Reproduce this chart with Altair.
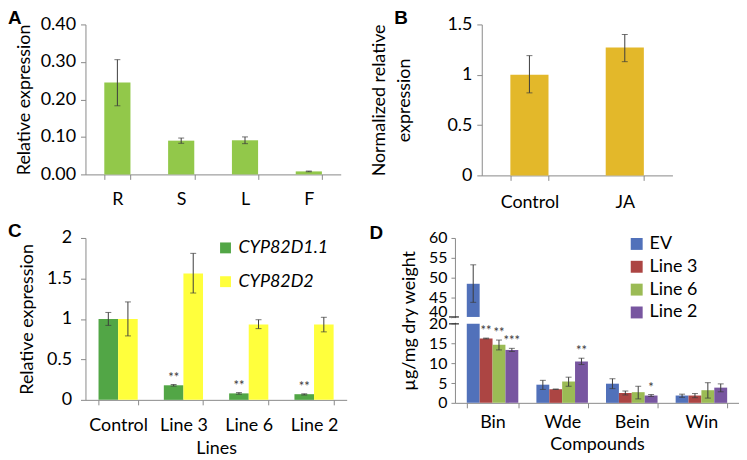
import altair as alt
import pandas as pd

FONT = "Lato"
LETTER_FONT = "Liberation Sans"
AXIS_GREY = "#898989"
ERR = "#3c3c3c"
STAR = "#404040"

# ---------------- Panel A ----------------
tissues = ["R", "S", "L", "F"]
tissue_mean = [0.245, 0.090, 0.091, 0.008]
tissue_lo = [0.183, 0.083, 0.082, 0.007]
tissue_hi = [0.306, 0.097, 0.100, 0.009]

# ---------------- Panel B ----------------
treatments = ["Control", "JA"]
treat_mean = [1.00, 1.27]
treat_lo = [0.82, 1.13]
treat_hi = [1.19, 1.40]

# ---------------- Panel C ----------------
lines_c = ["Control", "Line 3", "Line 6", "Line 2"]
genes = ["CYP82D1.1", "CYP82D2"]
gene_colors = ["#52a646", "#ffff3c"]
d11_mean = [1.00, 0.18, 0.08, 0.07]
d11_lo = [0.92, 0.17, 0.07, 0.06]
d11_hi = [1.08, 0.19, 0.09, 0.075]
d11_sig = ["", "**", "**", "**"]
d2_mean = [1.00, 1.56, 0.93, 0.93]
d2_lo = [0.79, 1.32, 0.88, 0.84]
d2_hi = [1.21, 1.81, 0.99, 1.02]
d2_sig = ["", "", "", ""]

# ---------------- Panel D ----------------
compounds = ["Bin", "Wde", "Bein", "Win"]
groups_d = ["EV", "Line 3", "Line 6", "Line 2"]
group_colors = ["#5171ba", "#ac4543", "#9bbb55", "#7856a0"]
ev_mean = [48.4, 4.6, 4.85, 1.85]
ev_lo = [43.7, 3.4, 3.6, 1.4]
ev_hi = [53.2, 5.7, 6.1, 2.2]
ev_sig = ["", "", "", ""]
l3_mean = [16.3, 3.45, 2.5, 1.85]
l3_lo = [16.2, 3.4, 2.0, 1.3]
l3_hi = [16.4, 3.5, 3.0, 2.35]
l3_sig = ["**", "", "", ""]
l6_mean = [14.7, 5.4, 2.7, 3.2]
l6_lo = [13.4, 4.2, 1.0, 1.2]
l6_hi = [15.9, 6.5, 4.2, 5.1]
l6_sig = ["**", "", "", ""]
l2_mean = [13.4, 10.5, 1.85, 3.85]
l2_lo = [13.0, 9.7, 1.6, 2.8]
l2_hi = [13.8, 11.3, 2.1, 4.8]
l2_sig = ["***", "**", "*", ""]

# broken y axis for panel D
LOW_TOP = 20.0
HIGH_BOTTOM = 40.0
HIGH_TOP = 60.0
GAP = 1.75
low_ticks = [0, 5, 10, 15, 20]
high_ticks = [40, 45, 50, 55, 60]

# keep every explicit tick (Vega thins explicit values down to tickCount)
ALL_TICKS = dict(labelOverlap=False, tickCount=50)


def brk(v):
    return v if v <= LOW_TOP else v - HIGH_BOTTOM + LOW_TOP + GAP


def bandwidth(width, n, p_inner, p_outer):
    step = width / (n - p_inner + 2 * p_outer)
    return step * (1 - p_inner)


def letter(ch, dx, dy):
    return alt.Chart(pd.DataFrame({"t": [ch]})).mark_text(
        align="left", baseline="top", font=LETTER_FONT, fontSize=19,
        fontWeight="bold", color="black"
    ).encode(text="t:N", x=alt.value(dx), y=alt.value(dy))


def simple_panel(cats, mean, lo, hi, color, width, height, domain, yvals, yfmt,
                 ytitle, title_x, xlabel_pad, letter_ch, letter_dx, letter_dy,
                 pad_inner, title_line_height=None):
    df = pd.DataFrame({"Cat": cats, "Mean": mean, "Lo": lo, "Hi": hi})
    base = alt.Chart(df)
    yaxis_kw = dict(values=yvals, format=yfmt, tickSize=5, labelPadding=5,
                    title=ytitle, titleX=title_x, titleY=height / 2,
                    titleAngle=270, titleBaseline="middle", titleAlign="center",
                    **ALL_TICKS)
    if title_line_height:
        yaxis_kw["titleLineHeight"] = title_line_height
    xscale = alt.Scale(domain=cats, paddingInner=pad_inner, paddingOuter=pad_inner / 2)
    yscale = alt.Scale(domain=domain, nice=False)
    x = alt.X("Cat:N", scale=xscale,
              axis=alt.Axis(title=None, labelAngle=0, tickBand="extent",
                            tickSize=5, labelPadding=xlabel_pad))
    xs = alt.X("Cat:N", scale=xscale)
    bars = base.mark_bar(color=color).encode(
        x=x, y=alt.Y("Mean:Q", scale=yscale, axis=alt.Axis(**yaxis_kw)),
    )
    rule = base.mark_rule(color=ERR, strokeWidth=1).encode(
        x=xs, y=alt.Y("Lo:Q", scale=yscale), y2="Hi:Q")
    tlo = base.mark_tick(color=ERR, size=6, thickness=1, orient="horizontal").encode(
        x=xs, y=alt.Y("Lo:Q", scale=yscale))
    thi = base.mark_tick(color=ERR, size=6, thickness=1, orient="horizontal").encode(
        x=xs, y=alt.Y("Hi:Q", scale=yscale))
    return alt.layer(bars, rule, tlo, thi, letter(letter_ch, letter_dx, letter_dy)).properties(
        width=width, height=height)


def grouped_layers(df, cat_field, ser_field, series, colors, xscale, band_w,
                   x_axis, y_main, yscale, legend, bar_y_fields):
    """Grouped bars: one layer set per series, each bar taking 1/m of the band."""
    m = len(series)
    sub = band_w / m
    layers = []
    y0, y1 = bar_y_fields
    for k, s in enumerate(series):
        off = (k - (m - 1) / 2) * sub
        dsub = df[df[ser_field] == s]
        b = alt.Chart(dsub)
        color_enc = alt.Color(f"{ser_field}:N",
                              scale=alt.Scale(domain=series, range=colors),
                              legend=legend)
        enc = dict(x=alt.X(f"{cat_field}:N", scale=xscale, axis=x_axis),
                   y=y_main if k == 0 else alt.Y(f"{y0}:Q", scale=yscale),
                   color=color_enc)
        if y1 is not None:
            enc["y2"] = f"{y1}:Q"
        layers.append(b.mark_bar(width={"band": 1.0 / m}, xOffset=off).encode(**enc))
    for k, s in enumerate(series):
        off = (k - (m - 1) / 2) * sub
        b = alt.Chart(df[df[ser_field] == s].drop_duplicates(subset=[cat_field]))
        xs = alt.X(f"{cat_field}:N", scale=xscale)
        layers.append(b.mark_rule(color=ERR, xOffset=off).encode(
            x=xs, y=alt.Y("Lo:Q", scale=yscale), y2="Hi:Q"))
        layers.append(b.mark_tick(color=ERR, size=6, thickness=1, orient="horizontal",
                                  xOffset=off).encode(x=xs, y=alt.Y("Lo:Q", scale=yscale)))
        layers.append(b.mark_tick(color=ERR, size=6, thickness=1, orient="horizontal",
                                  xOffset=off).encode(x=xs, y=alt.Y("Hi:Q", scale=yscale)))
        layers.append(b.mark_text(baseline="alphabetic", dy=-3, fontSize=13, color=STAR,
                                  font=FONT, xOffset=off).encode(
            x=xs, y=alt.Y("Hi:Q", scale=yscale), text="Sig:N"))
    return layers


chartA = simple_panel(tissues, tissue_mean, tissue_lo, tissue_hi, "#92c84a",
                      257, 151, [0, 0.4], [0, 0.1, 0.2, 0.3, 0.4], ".2f",
                      "Relative expression", -61, 11, "A", -78, -15, 0.59)

chartB = simple_panel(treatments, treat_mean, treat_lo, treat_hi, "#e3b82a",
                      192, 152, [0, 1.5], [0, 0.5, 1, 1.5], "~g",
                      ["Normalized relative", "expression"], -103, 13, "B", -88, -15,
                      0.6, title_line_height=25)

# ---------------- Panel C chart ----------------
rows_c = []
for i, ln in enumerate(lines_c):
    rows_c.append({"Line": ln, "Gene": genes[0], "Mean": d11_mean[i], "Lo": d11_lo[i],
                   "Hi": d11_hi[i], "Sig": d11_sig[i]})
    rows_c.append({"Line": ln, "Gene": genes[1], "Mean": d2_mean[i], "Lo": d2_lo[i],
                   "Hi": d2_hi[i], "Sig": d2_sig[i]})
df_c = pd.DataFrame(rows_c)
WC, HC = 263, 163
PC_IN, PC_OUT = 0.4, 0.2
xscale_c = alt.Scale(domain=lines_c, paddingInner=PC_IN, paddingOuter=PC_OUT)
yscale_c = alt.Scale(domain=[0, 2], nice=False)
xaxis_c = alt.Axis(title="Lines", labelAngle=0, tickBand="extent", tickSize=5,
                   labelPadding=12, titleY=49, titleBaseline="middle")
ymain_c = alt.Y("Mean:Q", scale=yscale_c,
                axis=alt.Axis(values=[0, 0.5, 1, 1.5, 2], format="~g", tickSize=5,
                              labelPadding=9,
                              title="Relative expression", titleX=-58,
                              titleY=HC / 2, titleAngle=270, titleBaseline="middle",
                              titleAlign="center", **ALL_TICKS))
legend_c = alt.Legend(title=None, orient="none", legendX=132, legendY=1,
                      symbolType="square", symbolSize=120, symbolStrokeWidth=0,
                      labelFontSize=18, labelFont=FONT, labelFontStyle="italic",
                      rowPadding=16, labelOffset=4)
layers_c = grouped_layers(df_c, "Line", "Gene", genes, gene_colors, xscale_c,
                          bandwidth(WC, len(lines_c), PC_IN, PC_OUT), xaxis_c,
                          ymain_c, yscale_c, legend_c, ("Mean", None))
chartC = alt.layer(*layers_c, letter("C", -78, -16)).properties(width=WC, height=HC)

# ---------------- Panel D chart ----------------
series_d = [
    (ev_mean, ev_lo, ev_hi, ev_sig),
    (l3_mean, l3_lo, l3_hi, l3_sig),
    (l6_mean, l6_lo, l6_hi, l6_sig),
    (l2_mean, l2_lo, l2_hi, l2_sig),
]
rows_d = []
for g, (m, lo, hi, sg) in zip(groups_d, series_d):
    for ci, comp in enumerate(compounds):
        v = m[ci]
        common = {"Compound": comp, "Group": g, "Lo": brk(lo[ci]), "Hi": brk(hi[ci]),
                  "Sig": sg[ci]}
        if v > HIGH_BOTTOM:
            rows_d.append({**common, "Y0": 0.0, "Y1": brk(LOW_TOP)})
            rows_d.append({**common, "Y0": brk(HIGH_BOTTOM), "Y1": brk(v)})
        else:
            rows_d.append({**common, "Y0": 0.0, "Y1": brk(v)})
df_d = pd.DataFrame(rows_d)

tick_disp = [brk(t) for t in low_ticks] + [brk(t) for t in high_ticks]
shift = HIGH_BOTTOM - LOW_TOP - GAP
label_expr = (f"datum.value > {LOW_TOP + GAP / 2} ? format(datum.value + {shift}, 'd')"
              f" : format(datum.value, 'd')")
high_start_test = (f"datum.value > {LOW_TOP + GAP / 2} && "
                   f"datum.value < {brk(HIGH_BOTTOM) + 1}")
WD, HD = 286, 166
PD_IN, PD_OUT = 0.26, 0.17
xscale_d = alt.Scale(domain=compounds, paddingInner=PD_IN, paddingOuter=PD_OUT)
yscale_d = alt.Scale(domain=[0, brk(HIGH_TOP)], nice=False)
xaxis_d = alt.Axis(title="Compounds", labelAngle=0, tickBand="extent", tickSize=5,
                   labelPadding=6, titleY=42, titleBaseline="middle")
ymain_d = alt.Y("Y0:Q", scale=yscale_d,
                axis=alt.Axis(values=tick_disp, labelExpr=label_expr, tickSize=4,
                              labelPadding=4, labelFontSize=16,
                              labelBaseline={"condition": {"test": high_start_test,
                                                           "value": "alphabetic"},
                                             "value": "middle"},
                              title="µg/mg dry weight", titleX=-46,
                              titleY=HD / 2, titleAngle=270, titleBaseline="middle",
                              titleAlign="center", **ALL_TICKS))
legend_d = alt.Legend(title=None, orient="none", legendX=174, legendY=-3,
                      symbolType="square", symbolSize=144, symbolStrokeWidth=0,
                      labelFontSize=18, labelFont=FONT, rowPadding=5, labelOffset=4)
layers_d = grouped_layers(df_d, "Compound", "Group", groups_d, group_colors, xscale_d,
                          bandwidth(WD, len(compounds), PD_IN, PD_OUT), xaxis_d,
                          ymain_d, yscale_d, legend_d, ("Y0", "Y1"))
gap_df = pd.DataFrame({"a": [brk(LOW_TOP) + 0.3], "b": [brk(HIGH_BOTTOM) - 0.3]})
gap_d = alt.Chart(gap_df).mark_rect(color="white").encode(
    y=alt.Y("a:Q", scale=yscale_d), y2="b:Q", x=alt.value(-3), x2=alt.value(3))
brk_df = pd.DataFrame({"b": [brk(LOW_TOP), brk(HIGH_BOTTOM)]})
brk_d = alt.Chart(brk_df).mark_rule(color="#222222", strokeWidth=1.2).encode(
    y=alt.Y("b:Q", scale=yscale_d), x=alt.value(-6), x2=alt.value(4))
chartD = alt.layer(*layers_d, gap_d, brk_d, letter("D", -86, -14)).properties(
    width=WD, height=HD)

top = alt.hconcat(chartA, chartB, spacing=30).resolve_scale(x="independent", y="independent")
bottom = alt.hconcat(chartC, chartD, spacing=23).resolve_scale(
    x="independent", y="independent", color="independent").resolve_legend(color="independent")

chart = alt.vconcat(top, bottom, spacing=11).resolve_scale(
    x="independent", y="independent", color="independent"
).properties(
    padding={"left": 0, "top": 0, "right": 0, "bottom": 0}
).configure_view(stroke=None).configure_axis(
    grid=False, domainColor=AXIS_GREY, tickColor=AXIS_GREY, domainWidth=1, tickWidth=1,
    labelColor="black", labelFont=FONT, labelFontSize=18, titleFont=FONT,
    titleFontSize=18, titleFontWeight="normal", titleColor="black", labelOverlap=False
).configure_legend(labelColor="black")

chart.save("out.html", embed_options={"renderer": "svg", "actions": False})
